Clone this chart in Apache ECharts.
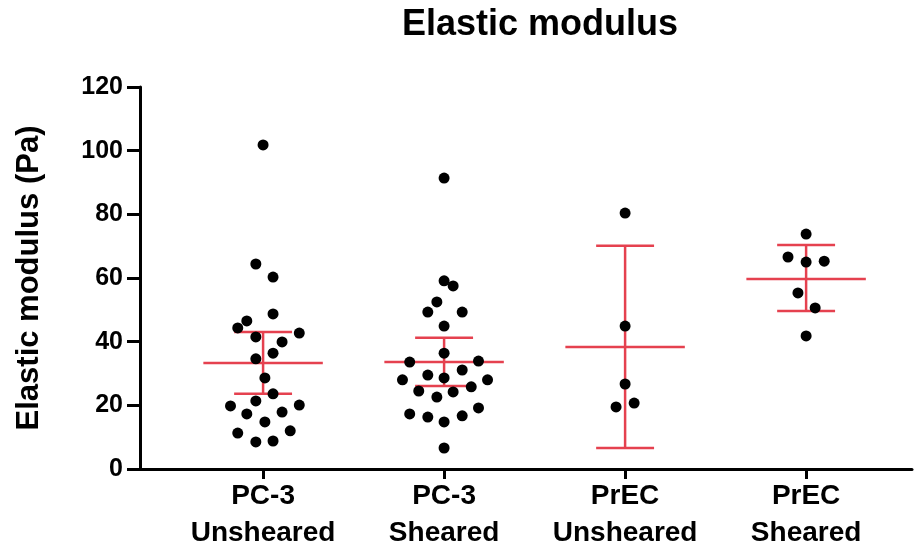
<!DOCTYPE html>
<html><head><meta charset="utf-8">
<script src="https://cdn.jsdelivr.net/npm/echarts@6/dist/echarts.min.js"></script>
<style>html,body{margin:0;padding:0;background:#fff}#c{width:922px;height:552px}</style>
</head><body><div id="c"></div><script>
// ---- data ----
const categories = ['PC-3\nUnsheared', 'PC-3\nSheared', 'PrEC\nUnsheared', 'PrEC\nSheared'];
const yTicks = [0, 20, 40, 60, 80, 100, 120];

const pc3UnshearedValues  = [101.8, 64.4, 60.3, 48.7, 46.5, 44.3, 42.7, 41.5, 39.9, 36.4, 34.6, 28.6, 23.6, 21.4, 19.8, 20.1, 17.3, 17.9, 14.8, 11.3, 12.0, 8.5, 8.8];
const pc3UnshearedJitter  = [0, -0.04, 0.055, 0.055, -0.09, -0.14, 0.2, -0.04, 0.105, 0.055, -0.04, 0.01, 0.055, -0.04, -0.18, 0.2, -0.09, 0.105, 0.01, -0.14, 0.15, -0.04, 0.055];

const pc3ShearedValues    = [91.4, 59.1, 57.5, 52.5, 49.3, 49.3, 44.9, 36.4, 33.6, 33.9, 29.5, 31.1, 28.0, 28.6, 28.0, 24.5, 25.8, 22.6, 24.2, 17.3, 19.2, 16.3, 16.7, 14.8, 6.6];
const pc3ShearedJitter    = [0, 0, 0.05, -0.04, -0.09, 0.1, 0, 0, -0.19, 0.19, -0.09, 0.1, -0.23, 0, 0.24, -0.14, 0.15, -0.04, 0.05, -0.19, 0.19, -0.09, 0.1, 0, 0];

const precUnshearedValues = [80.4, 44.9, 26.7, 20.7, 19.5];
const precUnshearedJitter = [0, 0, 0, 0.05, -0.05];

const precShearedValues   = [73.8, 66.6, 65.3, 65.0, 55.3, 50.6, 41.8];
const precShearedJitter   = [0, -0.1, 0.1, 0, -0.045, 0.05, 0];

const centerValues = [33.3, 33.6, 38.3, 59.7];
const lowerValues  = [23.6, 26.1, 6.6, 49.6];
const upperValues  = [43.0, 41.2, 70.1, 70.4];

// ---- build ----
const groups = [
  [pc3UnshearedValues, pc3UnshearedJitter],
  [pc3ShearedValues, pc3ShearedJitter],
  [precUnshearedValues, precUnshearedJitter],
  [precShearedValues, precShearedJitter]
];
const scatterData = [];
groups.forEach(([vals, jit], gi) => vals.forEach((v, k) => scatterData.push([gi + jit[k], v])));
const barData = categories.map((c, i) => [i, centerValues[i], lowerValues[i], upperValues[i]]);

const FONT = 'Liberation Sans, Arial, Helvetica, sans-serif';
const RED = '#e5414f';
const catIdx = categories.map((c, i) => i);

const chart = echarts.init(document.getElementById('c'), null, {renderer: 'canvas'});
chart.setOption({
  backgroundColor: '#fff',
  animation: false,
  title: {
    text: 'Elastic modulus',
    left: 535, top: 2, textAlign: 'center',
    textStyle: {fontFamily: FONT, fontWeight: 'bold', fontSize: 36, color: '#000'}
  },
  grid: {left: 140, right: 10, top: 87, bottom: 83, containLabel: false},
  xAxis: {
    type: 'value', min: -0.68, max: 3.585,
    splitLine: {show: false},
    axisLine: {show: true, onZero: false, lineStyle: {color: '#000', width: 3}},
    axisTick: {show: true, customValues: catIdx, length: 10, lineStyle: {color: '#000', width: 3}},
    axisLabel: {
      show: true, customValues: catIdx, margin: 9,
      formatter: v => categories[Math.round(v)],
      fontFamily: FONT, fontWeight: 'bold', fontSize: 28, lineHeight: 37, color: '#000'
    }
  },
  yAxis: {
    type: 'value', min: yTicks[0], max: yTicks[yTicks.length - 1], interval: 20,
    name: 'Elastic modulus (Pa)', nameLocation: 'middle', nameGap: 95,
    nameTextStyle: {fontFamily: FONT, fontWeight: 'bold', fontSize: 31, color: '#000'},
    splitLine: {show: false},
    axisLine: {show: true, onZero: false, lineStyle: {color: '#000', width: 3}},
    axisTick: {show: true, length: 13, lineStyle: {color: '#000', width: 3}},
    axisLabel: {margin: 17, fontFamily: FONT, fontWeight: 'bold', fontSize: 25, color: '#000'}
  },
  series: [
    {
      type: 'custom',
      data: barData,
      z: 2,
      renderItem: (params, api) => {
        const x = api.value(0);
        const pm = api.coord([x, api.value(1)]);
        const pl = api.coord([x, api.value(2)]);
        const ph = api.coord([x, api.value(3)]);
        const hm = api.size([0.33, 0])[0];
        const hc = api.size([0.16, 0])[0];
        const st = {stroke: RED, lineWidth: 2.5};
        return {
          type: 'group',
          children: [
            {type: 'line', shape: {x1: pl[0], y1: pl[1], x2: ph[0], y2: ph[1]}, style: st},
            {type: 'line', shape: {x1: pm[0] - hm, y1: pm[1], x2: pm[0] + hm, y2: pm[1]}, style: st},
            {type: 'line', shape: {x1: ph[0] - hc, y1: ph[1], x2: ph[0] + hc, y2: ph[1]}, style: st},
            {type: 'line', shape: {x1: pl[0] - hc, y1: pl[1], x2: pl[0] + hc, y2: pl[1]}, style: st}
          ]
        };
      }
    },
    {
      type: 'scatter',
      data: scatterData,
      symbol: 'circle',
      symbolSize: 11,
      z: 3,
      itemStyle: {color: '#000', opacity: 1}
    }
  ]
});
</script></body></html>
